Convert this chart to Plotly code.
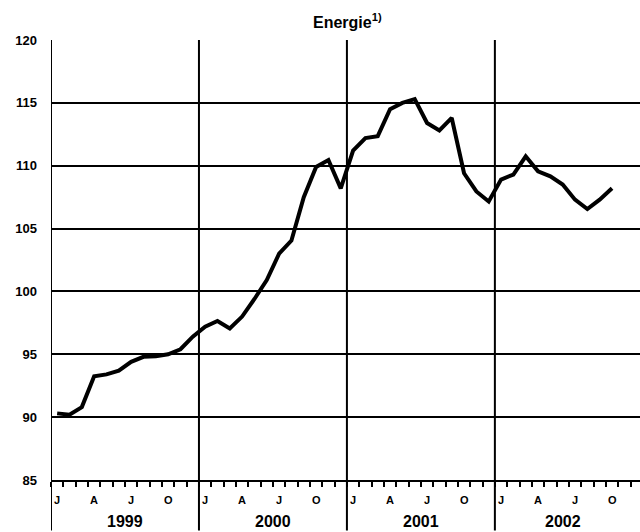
import plotly.graph_objects as go

years = ["1999", "2000", "2001", "2002"]
year_label_pos = [6, 18, 30, 41.5]
month_letters = ["J", "A", "J", "O"]
month_letter_idx = [0, 3, 6, 9]
y_ticks = [85, 90, 95, 100, 105, 110, 115, 120]

v1999 = [90.3, 90.2, 90.8, 93.25, 93.4, 93.7, 94.4, 94.8, 94.85, 95.0, 95.4, 96.4]
v2000 = [97.2, 97.65, 97.05, 98.0, 99.4, 100.9, 103.0, 104.05, 107.5, 109.9, 110.45, 108.2]
v2001 = [111.2, 112.2, 112.35, 114.5, 115.0, 115.3, 113.4, 112.8, 113.8, 109.4, 107.95, 107.15]
v2002 = [108.9, 109.3, 110.75, 109.55, 109.15, 108.5, 107.3, 106.55, 107.3, 108.2]

values = v1999 + v2000 + v2001 + v2002
x = [i + 0.5 for i in range(len(values))]

FONT = "Liberation Sans"
fig = go.Figure()
fig.add_trace(go.Scatter(x=x, y=values, mode="lines",
                         line=dict(color="black", width=4), hoverinfo="skip"))

shapes = []
for k in range(len(years) + 1):
    shapes.append(dict(type="line", xref="x", yref="paper", x0=12 * k, x1=12 * k,
                       y0=-0.115, y1=1, line=dict(color="black", width=2)))

annotations = []
for k, yr in enumerate(years):
    annotations.append(dict(x=year_label_pos[k], y=-0.094, xref="x", yref="paper", text=f"<b>{yr}</b>",
                            showarrow=False, font=dict(family=FONT, size=16, color="black"),
                            xanchor="center", yanchor="middle"))
    for lt, mi in zip(month_letters, month_letter_idx):
        annotations.append(dict(x=12 * k + mi + 0.5, y=-0.046, xref="x", yref="paper",
                                text=f"<b>{lt}</b>", showarrow=False,
                                font=dict(family=FONT, size=11, color="black"),
                                xanchor="center", yanchor="middle"))
annotations.append(dict(x=0.504, y=1.0, xref="paper", yref="paper", yshift=19,
                        text="<b>Energie<sup>1)</sup></b>", showarrow=False,
                        font=dict(family=FONT, size=16, color="black"),
                        xanchor="center", yanchor="middle"))

fig.update_layout(
    width=640, height=532,
    margin=dict(l=51, r=0, t=40, b=52, autoexpand=False),
    paper_bgcolor="white", plot_bgcolor="white",
    showlegend=False,
    shapes=shapes, annotations=annotations,
    xaxis=dict(range=[0, 47.77], tickmode="array", tickvals=list(range(0, 48)),
               ticks="outside", ticklen=5, tickwidth=2, tickcolor="black",
               showticklabels=False, showgrid=False, zeroline=False, automargin=False,
               showline=True, linecolor="black", linewidth=2),
    yaxis=dict(range=[85, 120], tickmode="array", tickvals=y_ticks,
               ticktext=[f"<b>{v}</b>" for v in y_ticks],
               showgrid=True, gridcolor="black", gridwidth=2, automargin=False,
               zeroline=False, showline=False, ticks="",
               ticklabelstandoff=13,
               tickfont=dict(family=FONT, size=13, color="black")),
)
fig.write_html("out.html", config={"displayModeBar": False, "staticPlot": True},
               post_script="document.body.style.margin='0';document.body.style.overflow='hidden';")
